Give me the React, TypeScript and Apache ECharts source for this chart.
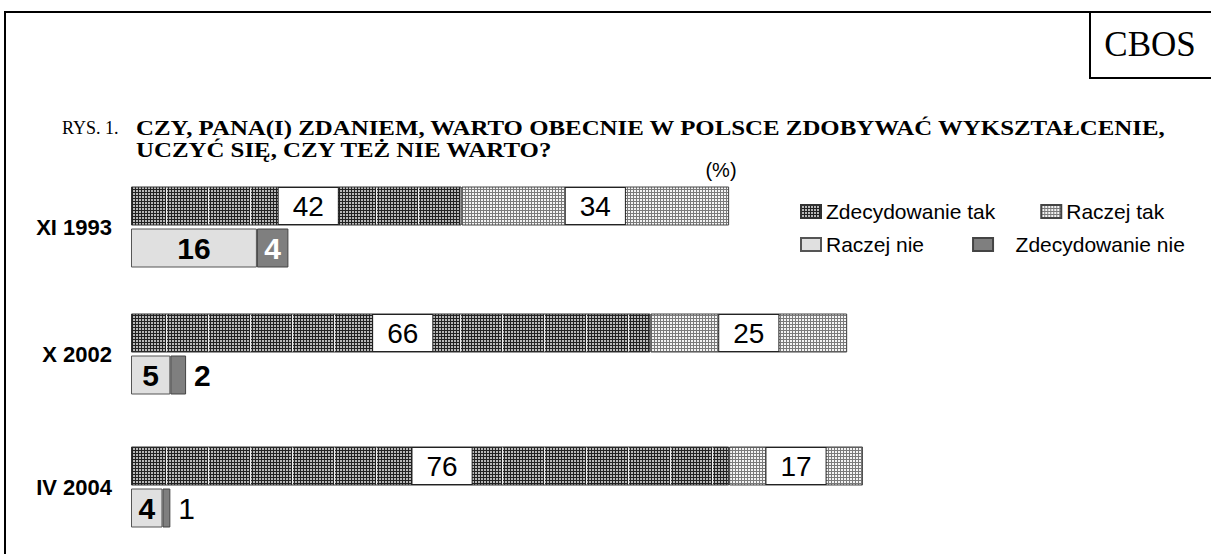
import React, { useEffect, useRef } from 'react';
import * as echarts from 'echarts';

// ---- data ----
const periods = ['XI 1993', 'X 2002', 'IV 2004'];
const seriesNames = ['Zdecydowanie tak', 'Raczej tak', 'Raczej nie', 'Zdecydowanie nie'];
const zdecydowanieTak = [42, 66, 76];
const raczejTak = [34, 25, 17];
const raczejNie = [16, 5, 4];
const zdecydowanieNie = [4, 2, 1];
const rowCategories = ['tak', 'nie'];
const outsideLabelWeight = ['bold', 'bold', 'normal'];
const titleLabel = 'RYS. 1.';
const titleLine1 = 'CZY, PANA(I) ZDANIEM, WARTO OBECNIE W POLSCE ZDOBYWAĆ WYKSZTAŁCENIE,';
const titleLine2 = 'UCZYĆ SIĘ, CZY TEŻ NIE WARTO?';
const unitLabel = '(%)';
const brand = 'CBOS';

const SANS = '"Liberation Sans", Arial, sans-serif';
const SERIF = '"Liberation Serif", "Times New Roman", serif';

function makePattern(w: number, h: number, fn: (x: number, y: number) => string) {
  const c = document.createElement('canvas');
  c.width = w;
  c.height = h;
  const ctx = c.getContext('2d')!;
  for (let y = 0; y < h; y++) {
    for (let x = 0; x < w; x++) {
      ctx.fillStyle = fn(x, y);
      ctx.fillRect(x, y, 1, 1);
    }
  }
  return { image: c.toDataURL(), repeat: 'repeat', imageWidth: w, imageHeight: h } as any;
}

export default function App() {
  const ref = useRef<HTMLDivElement>(null);

  useEffect(() => {
    document.body.style.margin = '0';
    if (!ref.current) return;
    const chart = echarts.init(ref.current, undefined, { renderer: 'svg' });

    const darkPattern = makePattern(42, 3, (x, y) => {
      if (x === 40) return '#eeeeee';
      if (x % 3 === 0 || y === 0) return '#222222';
      return '#b8b8b8';
    });
    const lightPattern = makePattern(3, 3, (x, y) => {
      if (x === 0 || y === 0) return '#7a7a7a';
      return '#f4f4f4';
    });

    const gridTops = [185, 312, 445];
    const grids = gridTops.map((t) => ({ left: 131, top: t, width: 787, height: 84 }));
    const xAxes = gridTops.map((_, i) => ({
      gridIndex: i, type: 'value', min: 0, max: 100, show: false,
    }));
    const yAxes = gridTops.map((_, i) => ({
      gridIndex: i,
      type: 'category',
      data: rowCategories,
      inverse: true,
      axisLine: { show: false },
      axisTick: { show: false },
      axisLabel: { show: false },
      splitLine: { show: false },
      name: periods[i],
      nameLocation: 'middle',
      nameRotate: 0,
      nameGap: 19,
      nameTextStyle: {
        align: 'right', verticalAlign: 'middle', fontSize: 22, fontWeight: 'bold',
        fontFamily: SANS, color: '#000',
      },
    }));

    const topLabel = (offsetX: number) => ({
      show: true,
      position: 'inside',
      offset: [offsetX, 0],
      formatter: '{c}',
      fontSize: 28,
      fontFamily: SANS,
      color: '#000',
      backgroundColor: '#fff',
      borderColor: '#222',
      borderWidth: 1,
      padding: [4, 14, 2, 14],
      lineHeight: 30,
    });

    const series: any[] = [];
    periods.forEach((_, i) => {
      const common = { type: 'bar', xAxisIndex: i, yAxisIndex: i, stack: 'g' + i, barWidth: 39 };
      series.push({
        ...common,
        name: seriesNames[0],
        data: [zdecydowanieTak[i], '-'],
        itemStyle: { color: darkPattern, borderColor: '#333', borderWidth: 1 },
        label: topLabel(12),
      });
      series.push({
        ...common,
        name: seriesNames[1],
        data: [raczejTak[i], '-'],
        itemStyle: { color: lightPattern, borderColor: '#444', borderWidth: 1 },
        label: topLabel(0),
      });
      series.push({
        ...common,
        name: seriesNames[2],
        data: ['-', raczejNie[i]],
        itemStyle: { color: '#e0e0e0', borderColor: '#555', borderWidth: 1 },
        label: {
          show: true, position: 'inside', formatter: '{c}', fontSize: 30,
          fontWeight: 'bold', fontFamily: SANS, color: '#000',
        },
      });
      const inside = zdecydowanieNie[i] >= 3;
      series.push({
        ...common,
        name: seriesNames[3],
        data: ['-', zdecydowanieNie[i]],
        itemStyle: { color: '#7f7f7f', borderColor: '#444', borderWidth: 1 },
        label: {
          show: true,
          position: inside ? 'inside' : 'right',
          distance: 8,
          formatter: '{c}',
          fontSize: 30,
          fontWeight: inside ? 'bold' : outsideLabelWeight[i],
          fontFamily: SANS,
          color: inside ? '#fff' : '#000',
        },
      });
    });

    const legendText = { fontSize: 21, fontFamily: SANS, color: '#000' };

    chart.setOption({
      animation: false,
      backgroundColor: '#fff',
      grid: grids,
      xAxis: xAxes,
      yAxis: yAxes,
      legend: [
        {
          data: [seriesNames[0], seriesNames[1]],
          left: 800, top: 201, padding: 0, icon: 'rect', itemWidth: 20, itemHeight: 13,
          itemGap: 45, selectedMode: false, textStyle: legendText,
        },
        {
          data: [seriesNames[2], seriesNames[3]],
          left: 800, top: 234, padding: 0, icon: 'rect', itemWidth: 20, itemHeight: 13,
          itemGap: 48, selectedMode: false, textStyle: legendText,
          formatter: (n: string) => (n === seriesNames[3] ? '   ' + n : n),
        },
      ],
      series,
      graphic: [
        { type: 'line', shape: { x1: 5, y1: 12, x2: 5, y2: 554 }, style: { stroke: '#000', lineWidth: 2 } },
        { type: 'line', shape: { x1: 4, y1: 12, x2: 1211, y2: 12 }, style: { stroke: '#000', lineWidth: 2 } },
        { type: 'line', shape: { x1: 1090, y1: 12, x2: 1090, y2: 78 }, style: { stroke: '#000', lineWidth: 2 } },
        { type: 'line', shape: { x1: 1089, y1: 78, x2: 1211, y2: 78 }, style: { stroke: '#000', lineWidth: 2 } },
        {
          type: 'text', x: 1150, y: 44,
          style: { text: brand, fontSize: 35, fontFamily: SERIF, fill: '#000', align: 'center', verticalAlign: 'middle' },
        },
        {
          type: 'text', x: 62, y: 128,
          style: { text: titleLabel, fontSize: 18, fontFamily: SERIF, fill: '#000', verticalAlign: 'middle' },
        },
        {
          type: 'text', x: 136, y: 128, scaleX: 1.13,
          style: { text: titleLine1, fontSize: 22, fontWeight: 'bold', fontFamily: SERIF, fill: '#000', verticalAlign: 'middle' },
        },
        {
          type: 'text', x: 136, y: 150, scaleX: 1.13,
          style: { text: titleLine2, fontSize: 22, fontWeight: 'bold', fontFamily: SERIF, fill: '#000', verticalAlign: 'middle' },
        },
        {
          type: 'text', x: 721, y: 170,
          style: { text: unitLabel, fontSize: 20, fontFamily: SANS, fill: '#000', align: 'center', verticalAlign: 'middle' },
        },
      ],
    });

    return () => chart.dispose();
  }, []);

  return <div ref={ref} style={{ width: 1211, height: 554 }} />;
}
